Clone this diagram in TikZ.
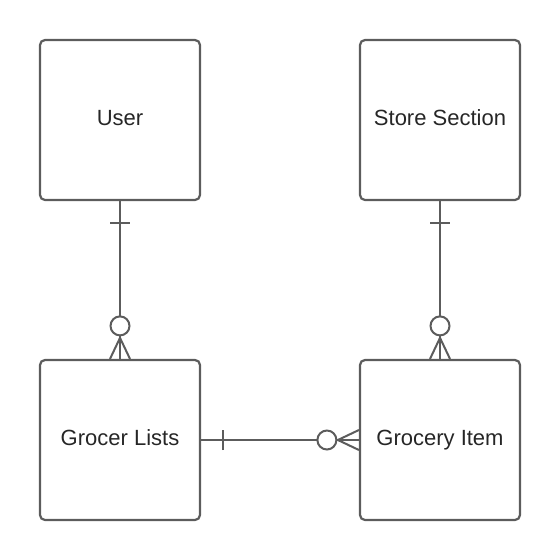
\documentclass[tikz,border=0pt]{standalone}
\usepackage{fontspec}
\setmainfont{Liberation Sans}
\newcommand{\up}[1]{\raisebox{5pt}{#1}}
\begin{document}
\begin{tikzpicture}[x=1pt,y=-1pt,
  entity/.style={draw=linegray, line width=2.2pt, rounded corners=5pt, minimum width=160pt, minimum height=160pt, inner sep=0pt, font=\fontsize{22}{26}\selectfont, text=black!85},
  rel/.style={draw=linegray, line width=2pt}]
\definecolor{linegray}{HTML}{5C5C5C}
\useasboundingbox (0,0) rectangle (560,560);
\node[entity] (user) at (120,120) {\up{User}};
\node[entity] (store) at (440,120) {\up{Store Section}};
\node[entity] (lists) at (120,440) {\up{Grocer Lists}};
\node[entity] (item) at (440,440) {\up{Grocery Item}};
% User -> Grocer Lists
\draw[rel] (user.south) -- (lists.north);
\draw[rel] ([xshift=-10pt,yshift=-22pt]user.south) -- ([xshift=10pt,yshift=-22pt]user.south);
\draw[rel, fill=white] ([yshift=33pt]lists.north) circle (9.5pt);
\draw[rel] ([yshift=21pt]lists.north) -- ([xshift=-10pt]lists.north);
\draw[rel] ([yshift=21pt]lists.north) -- ([xshift=10pt]lists.north);
% Store -> Item
\draw[rel] (store.south) -- (item.north);
\draw[rel] ([xshift=-10pt,yshift=-22pt]store.south) -- ([xshift=10pt,yshift=-22pt]store.south);
\draw[rel, fill=white] ([yshift=33pt]item.north) circle (9.5pt);
\draw[rel] ([yshift=21pt]item.north) -- ([xshift=-10pt]item.north);
\draw[rel] ([yshift=21pt]item.north) -- ([xshift=10pt]item.north);
% Lists -> Item
\draw[rel] (lists.east) -- (item.west);
\draw[rel] ([xshift=22pt,yshift=-10pt]lists.east) -- ([xshift=22pt,yshift=10pt]lists.east);
\draw[rel, fill=white] ([xshift=-32pt]item.west) circle (9.5pt);
\draw[rel] ([xshift=-21pt]item.west) -- ([yshift=-10pt]item.west);
\draw[rel] ([xshift=-21pt]item.west) -- ([yshift=10pt]item.west);
\end{tikzpicture}
\end{document}
